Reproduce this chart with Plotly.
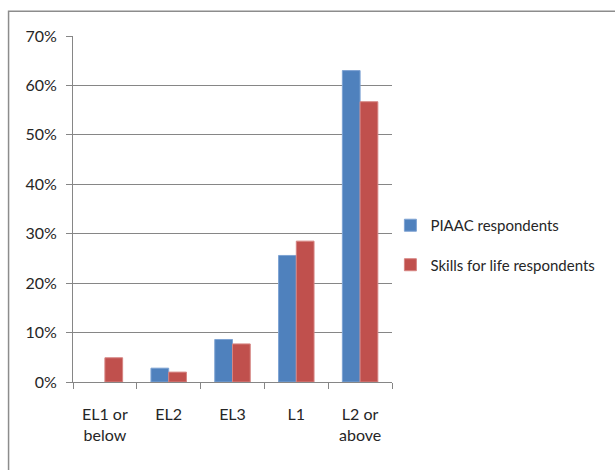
import plotly.graph_objects as go

categories = ["EL1 or<br>below", "EL2", "EL3", "L1", "L2 or<br>above"]
piaac = [None, 0.028, 0.086, 0.256, 0.630]
sfl = [0.049, 0.020, 0.077, 0.285, 0.567]
series_names = ["PIAAC respondents", "Skills for life respondents"]
y_ticks = [0, 0.1, 0.2, 0.3, 0.4, 0.5, 0.6, 0.7]
y_labels = ["0%", "10%", "20%", "30%", "40%", "50%", "60%", "70%"]

FONT = "Lato, sans-serif"
TXT = "#262626"

fig = go.Figure()
fig.add_trace(go.Bar(x=categories, y=piaac, name=series_names[0], legendgroup="a",
                     marker=dict(color="#4F81BD", line=dict(color="#7EA3D3", width=1))))
fig.add_trace(go.Bar(x=categories, y=sfl, name=series_names[1], legendgroup="b",
                     marker=dict(color="#C0504D", line=dict(color="#D68482", width=1))))

fig.update_layout(
    width=615, height=470,
    margin=dict(l=73, r=223, t=36, b=88),
    paper_bgcolor="white", plot_bgcolor="white",
    font=dict(family=FONT, size=16, color=TXT),
    barmode="group", bargap=0.444, bargroupgap=0,
    showlegend=True,
    legend=dict(x=0.995, y=0.396, xanchor="left", yanchor="middle",
                tracegroupgap=17, font=dict(family=FONT, size=15, color=TXT),
                bgcolor="rgba(0,0,0,0)"),
    xaxis=dict(showline=True, linecolor="#868686", linewidth=1,
               ticks="outside", tickson="boundaries", ticklen=6, tickcolor="#868686",
               showgrid=False, ticklabelstandoff=18,
               tickfont=dict(family=FONT, size=16, color=TXT)),
    yaxis=dict(range=[0, 0.7], tickvals=y_ticks, ticktext=y_labels,
               showline=True, linecolor="#868686", linewidth=1,
               ticks="outside", ticklen=6, tickcolor="#868686",
               showgrid=True, gridcolor="#868686", gridwidth=1,
               zeroline=False, ticklabelstandoff=6,
               tickfont=dict(family=FONT, size=16, color=TXT)),
    shapes=[dict(type="rect", xref="paper", yref="paper",
                 x0=-0.202, y0=-1.0, x1=2.0, y1=1.0715,
                 line=dict(color="#8C8C8C", width=1.5), fillcolor="rgba(0,0,0,0)",
                 layer="below")],
)

# remove the default 8px page margin so the 615x470 figure fills the window exactly
fig.write_html("out.html", config={"displayModeBar": False},
               post_script="document.body.style.margin='0px';")
